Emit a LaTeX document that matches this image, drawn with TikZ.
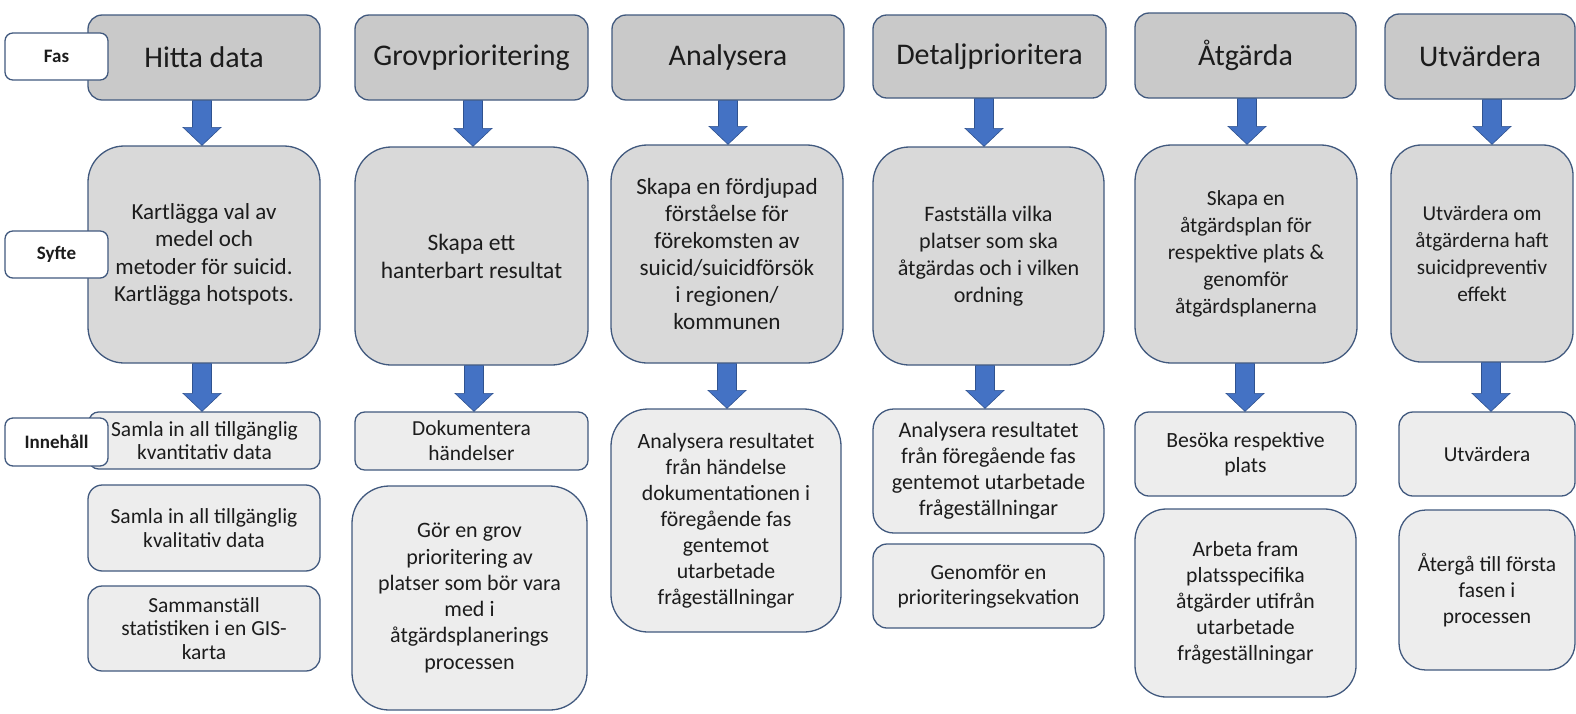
\documentclass[tikz,border=0pt]{standalone}
\usepackage{fontspec}
\setmainfont{Carlito}
\usetikzlibrary{calc}

\definecolor{edge}{HTML}{41597E}
\definecolor{hdrfill}{HTML}{C9C9C9}
\definecolor{aimfill}{HTML}{D9D9D9}
\definecolor{itemfill}{HTML}{EDEDED}
\definecolor{arrowfill}{HTML}{4472C4}
\definecolor{arrowedge}{HTML}{2F528F}
\definecolor{ink}{HTML}{1C1C1C}

\tikzset{
  box/.style={draw=edge, line width=1.3pt, inner sep=0pt, align=center, text=ink},
  fs/.style 2 args={font=\fontsize{#1}{#2}\selectfont},
  phase/.style={box, fill=hdrfill, fs={30}{34}},
  aim/.style={box, fill=aimfill, fs={21.5}{27}},
  item/.style={box, fill=itemfill, fs={21.7}{26}},
  rowlabel/.style={box, fill=white, font=\bfseries\fontsize{19}{23}\selectfont},
  blockarrow/.style={fill=arrowfill, draw=arrowedge, line width=0.6pt},
}

% box from corner (#2,#3) to corner (#4,#5), style #6, text #7
\newcommand\bx[7]{%
  \pgfmathsetmacro\bw{#4-#2}%
  \pgfmathsetmacro\bh{#5-#3}%
  \pgfmathsetmacro\br{0.1667*min(\bw,\bh)}%
  \node[#6, minimum width=\bw pt, minimum height=\bh pt, rounded corners=\br pt]
    (#1) at ({(#2+#4)/2},{(#3+#5)/2}) {#7};}

% thick downward block arrow at x=#1 from node #2 to node #3
\newcommand\flowarrow[3]{%
  \path[blockarrow] let \p1=(#2.south), \p2=(#3.north) in
    ({#1pt-9.5pt},\y1) -- ({#1pt+9.5pt},\y1) -- ({#1pt+9.5pt},{\y2+18pt})
    -- ({#1pt+19pt},{\y2+18pt}) -- (#1pt,\y2) -- ({#1pt-19pt},{\y2+18pt})
    -- ({#1pt-9.5pt},{\y2+18pt}) -- cycle;}

\begin{document}
\begin{tikzpicture}[x=1pt, y=-1pt]
\useasboundingbox (0,0) rectangle (1576,713);

% Hitta data
\bx{h1}{88}{15}{320}{100}{phase}{Hitta data}
\bx{s1}{88}{146}{320}{363}{aim, fs={23}{27.5}}{Kartlägga val av\\medel och\\metoder för suicid.\\Kartlägga hotspots.}
\bx{i1a}{89}{412}{320}{469}{item, fs={21.5}{23.5}}{Samla in all tillgänglig\\kvantitativ data}
\bx{i1b}{88}{485}{320}{571}{item, fs={21.5}{23.5}}{Samla in all tillgänglig\\kvalitativ data}
\bx{i1c}{88}{586}{320}{671}{item, fs={21.5}{23.5}}{Sammanställ\\statistiken i en GIS-\\karta}
\flowarrow{202}{h1}{s1}
\flowarrow{202}{s1}{i1a}

% Grovprioritering
\bx{h2}{355}{15}{588}{100}{phase}{Grovprioritering}
\bx{s2}{355}{147}{588}{365}{aim, fs={23.5}{28}}{Skapa ett\\hanterbart resultat}
\bx{i2a}{355}{412}{588}{470}{item, fs={21.4}{25}}{Dokumentera\\händelser}
\bx{i2b}{352}{486}{587}{710}{item, fs={22}{26.3}}{Gör en grov\\prioritering av\\platser som bör vara\\med i\\åtgärdsplanerings\\processen}
\flowarrow{473}{h2}{s2}
\flowarrow{474}{s2}{i2a}

% Analysera
\bx{h3}{612}{15}{844}{100}{phase}{Analysera}
\bx{s3}{611}{145}{843}{363}{aim, fs={23.2}{27}}{Skapa en fördjupad\\förståelse för\\förekomsten av\\suicid/suicidförsök\\i regionen/\\kommunen}
\bx{i3a}{611}{409}{841}{632}{item, fs={21.8}{26}}{Analysera resultatet\\från händelse\\dokumentationen i\\föregående fas\\gentemot\\utarbetade\\frågeställningar}
\flowarrow{728}{h3}{s3}
\flowarrow{727}{s3}{i3a}

% Detaljprioritera
\bx{h4}{873}{15}{1106}{98}{phase}{Detaljprioritera}
\bx{s4}{873}{147}{1104}{365}{aim, fs={22.1}{27}}{Fastställa vilka\\platser som ska\\åtgärdas och i vilken\\ordning}
\bx{i4a}{873}{409}{1104}{533}{item, fs={22.2}{26}}{Analysera resultatet\\från föregående fas\\gentemot utarbetade\\frågeställningar}
\bx{i4b}{873}{544}{1104}{628}{item, fs={21.5}{25}}{Genomför en\\prioriteringsekvation}
\flowarrow{984}{h4}{s4}
\flowarrow{985}{s4}{i4a}

% Åtgärda
\bx{h5}{1135}{13}{1356}{98}{phase}{Åtgärda}
\bx{s5}{1135}{145}{1357}{363}{aim}{Skapa en\\åtgärdsplan för\\respektive plats \&\\genomför\\åtgärdsplanerna}
\bx{i5a}{1135}{412}{1356}{496}{item, fs={21.7}{25}}{Besöka respektive\\plats}
\bx{i5b}{1135}{509}{1356}{697}{item}{Arbeta fram\\platsspecifika\\åtgärder utifrån\\utarbetade\\frågeställningar}
\flowarrow{1247}{h5}{s5}
\flowarrow{1245}{s5}{i5a}

% Utvärdera
\bx{h6}{1385}{14}{1575}{99}{phase}{Utvärdera}
\bx{s6}{1391}{145}{1573}{362}{aim, fs={21.2}{27}}{Utvärdera om\\åtgärderna haft\\suicidpreventiv\\effekt}
\bx{i6a}{1399}{412}{1575}{496}{item, fs={21.3}{25}}{Utvärdera}
\bx{i6b}{1399}{510}{1575}{670}{item, fs={21.5}{26}}{Återgå till första\\fasen i\\processen}
\flowarrow{1492}{h6}{s6}
\flowarrow{1491}{s6}{i6a}

% Row labels
\bx{lfas}{5}{33}{108}{80}{rowlabel}{Fas}
\bx{lsyfte}{5}{231}{108}{278}{rowlabel}{Syfte}
\bx{linneh}{5}{418}{108}{466}{rowlabel}{Innehåll}
\end{tikzpicture}
\end{document}
